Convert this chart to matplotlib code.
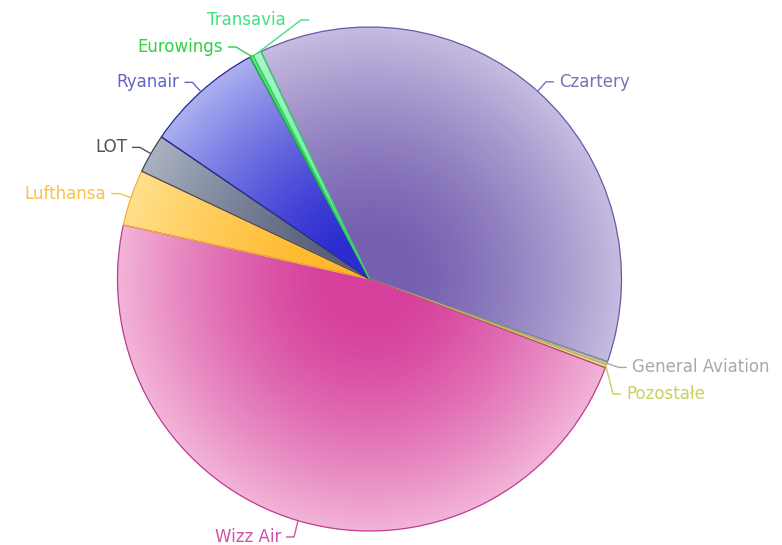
import numpy as np
import matplotlib
matplotlib.use('Agg')
import matplotlib.pyplot as plt
from matplotlib.colors import to_rgb
from matplotlib.patches import Wedge

# share of passengers by carrier (%)
labels = ['Czartery', 'General Aviation', 'Pozostałe', 'Wizz Air', 'Lufthansa',
          'LOT', 'Ryanair', 'Eurowings', 'Transavia']
shares = [37.4, 0.2, 0.2, 47.7, 3.6, 2.5, 7.6, 0.22, 0.56]

inner_colors = ['#7560b0', '#a0a0a0', '#d8d850', '#d6409c', '#ffb828',
                '#56607a', '#2c2cd0', '#18e040', '#60f098']
outer_colors = ['#c6bce0', '#c8c8c8', '#e8e890', '#f2b4d8', '#ffe08c',
                '#aab2c2', '#acb0f0', '#60f080', '#a8f8c8']
edge_colors = ['#6a5aa8', '#909090', '#c8c040', '#c03c90', '#f0b040',
               '#404860', '#2a2a98', '#20c040', '#40d070']
text_colors = ['#7a70b8', '#a8a8a8', '#c8d060', '#d050a8', '#ffbf40',
               '#505060', '#6464c8', '#30d040', '#40e080']

W, H = 782, 545
cx, cy, R = 369.5, H - 279, 252


def px(x, y):
    # picture pixel coords -> data coords (y up)
    return x, H - y


# hand placed connectors where labels were pushed aside
overrides = {
    'Pozostałe': dict(elbow=px(613, 394)),
    'Wizz Air': dict(elbow=px(294, 537)),
    'Eurowings': dict(elbow=px(236, 47)),
    'Transavia': dict(elbow=px(301, 20), side=1, text=(px(286, 20), 'right')),
}

fig = plt.figure(figsize=(W / 100, H / 100), dpi=100)
ax = fig.add_axes([0, 0, 1, 1])

wedges, _ = ax.pie(shares, colors=inner_colors, startangle=115.5, counterclock=False,
                   center=(cx, cy), radius=R, frame=True,
                   wedgeprops=dict(linewidth=0))

# radial shading from the pie centre, clipped to each slice
n = 500
yy, xx = np.mgrid[cy - R:cy + R:n * 1j, cx - R:cx + R:n * 1j]
r = np.hypot(xx - cx, yy - cy) / R
t = np.clip((r - 0.15) / 0.85, 0, 1) ** 1.4
for w, ci, co, ec in zip(wedges, inner_colors, outer_colors, edge_colors):
    c0, c1 = np.array(to_rgb(ci)), np.array(to_rgb(co))
    img = c0 * (1 - t)[..., None] + c1 * t[..., None]
    im = ax.imshow(img, extent=(cx - R, cx + R, cy - R, cy + R), origin='lower',
                   interpolation='bilinear', zorder=2)
    im.set_clip_path(w)
    ax.add_patch(Wedge(w.center, w.r, w.theta1, w.theta2, fill=False,
                       edgecolor=ec, linewidth=0.9, zorder=3))

# labels with leader lines
for w, lab, tc in zip(wedges, labels, text_colors):
    mid = np.deg2rad((w.theta1 + w.theta2) / 2)
    anchor = (cx + R * np.cos(mid), cy + R * np.sin(mid))
    elbow = (cx + 1.05 * R * np.cos(mid), cy + 1.05 * R * np.sin(mid))
    side = 1 if np.cos(mid) >= 0 else -1
    o = overrides.get(lab, {})
    elbow = o.get('elbow', elbow)
    side = o.get('side', side)
    end = (elbow[0] + side * 8, elbow[1])
    ax.plot([anchor[0], elbow[0], end[0]], [anchor[1], elbow[1], end[1]],
            color=tc, lw=1, zorder=4, solid_capstyle='butt')
    if 'text' in o:
        (tx, ty), ha = o['text']
    else:
        tx, ty = end[0] + side * 5, elbow[1]
        ha = 'left' if side > 0 else 'right'
    ax.text(tx, ty, lab, color=tc, fontsize=12, ha=ha, va='center', zorder=5)

ax.set_xlim(0, W)
ax.set_ylim(0, H)
ax.set_aspect('equal')
ax.axis('off')

fig.savefig('out.png', dpi=100, facecolor='white')
